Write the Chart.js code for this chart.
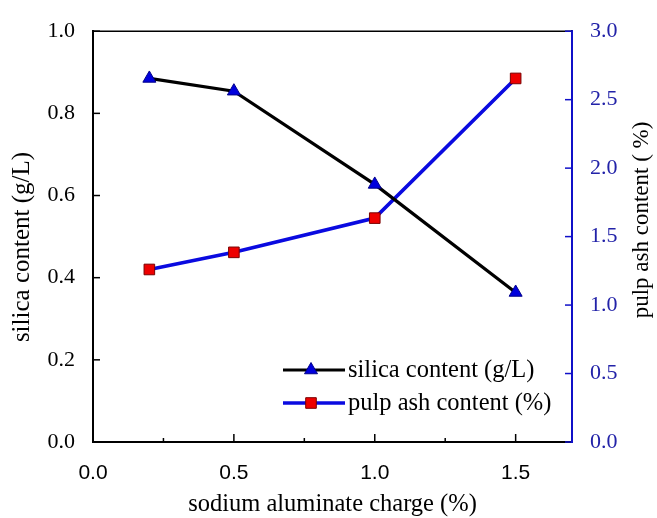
<!DOCTYPE html>
<html><head><meta charset="utf-8">
<script src="https://cdn.jsdelivr.net/npm/chart.js@4.4.1/dist/chart.umd.min.js"></script>
<style>html,body{margin:0;padding:0;background:#fff;} #wrap{width:657px;height:518px;}</style>
</head><body><div id="wrap"><canvas id="c" width="657" height="518"></canvas></div>
<script>
const charge = [0.2, 0.5, 1.0, 1.5];
const silica = [0.885, 0.854, 0.627, 0.364];
const ash = [1.26, 1.385, 1.635, 2.655];
const xTicks = [0, 0.5, 1.0, 1.5];
const xMinorTicks = [0.25, 0.75, 1.25];
const yTicks = [0, 0.2, 0.4, 0.6, 0.8, 1.0];
const y2Ticks = [0, 0.5, 1.0, 1.5, 2.0, 2.5, 3.0];
const seriesLabels = ['silica content (g/L)', 'pulp ash content (%)'];
const xTitle = 'sodium aluminate charge (%)';
const yTitle = 'silica content (g/L)';
const y2Title = 'pulp ash content ( %)';

const SERIF = '"Liberation Serif", "Times New Roman", serif';
const SANS = '"Liberation Sans", Arial, sans-serif';
const BLUE_TEXT = '#2222a8';
const BLUE_AXIS = '#1010c8';

function seg(ctx, x1, y1, x2, y2) { ctx.beginPath(); ctx.moveTo(x1, y1); ctx.lineTo(x2, y2); ctx.stroke(); }

const decor = {
  id: 'decor',
  beforeDatasetsDraw(chart) {
    const {ctx, chartArea: a, scales} = chart;
    ctx.save();
    ctx.strokeStyle = '#000';
    ctx.lineWidth = 1.5;
    seg(ctx, a.left, a.top, a.right, a.top);
    yTicks.forEach(v => { const p = scales.y.getPixelForValue(v); seg(ctx, a.left, p, a.left + 7, p); });
    xTicks.forEach(v => { const p = scales.x.getPixelForValue(v); seg(ctx, p, a.bottom, p, a.bottom - 8); });
    xMinorTicks.forEach(v => { const p = scales.x.getPixelForValue(v); seg(ctx, p, a.bottom, p, a.bottom - 4); });
    ctx.strokeStyle = BLUE_AXIS;
    y2Ticks.forEach(v => { const p = scales.y1.getPixelForValue(v); seg(ctx, a.right, p, a.right - 7, p); });
    ctx.restore();
  },
  afterDraw(chart) {
    const {ctx, chartArea: a} = chart;
    ctx.save();
    ctx.fillStyle = '#000';
    ctx.textAlign = 'center';
    ctx.textBaseline = 'middle';
    ctx.save();
    ctx.translate(22, 247);
    ctx.rotate(-Math.PI / 2);
    ctx.font = '25px ' + SERIF;
    ctx.fillText(yTitle, 0, 0);
    ctx.restore();
    ctx.save();
    ctx.translate(642, 220);
    ctx.rotate(-Math.PI / 2);
    ctx.font = '23px ' + SERIF;
    ctx.fillText(y2Title, 0, 0);
    ctx.restore();
    const rows = [a.bottom - 72, a.bottom - 39];
    const x0 = a.left + 190, x1 = a.left + 252, xm = a.left + 218;
    chart.data.datasets.forEach((ds, i) => {
      const y = rows[i];
      ctx.strokeStyle = ds.borderColor;
      ctx.lineWidth = ds.borderWidth;
      seg(ctx, x0, y, x1, y);
      if (Chart.helpers && Chart.helpers.drawPoint) {
        ctx.fillStyle = ds.pointBackgroundColor;
        ctx.strokeStyle = ds.pointBorderColor;
        ctx.lineWidth = ds.pointBorderWidth;
        Chart.helpers.drawPoint(ctx, {pointStyle: ds.pointStyle, radius: ds.pointRadius, rotation: 0, borderWidth: ds.pointBorderWidth}, xm, y);
      }
      ctx.fillStyle = '#000';
      ctx.textAlign = 'left';
      ctx.textBaseline = 'middle';
      ctx.font = '24.5px ' + SERIF;
      ctx.fillText(ds.label, x1 + 3, y + 1);
    });
    ctx.restore();
  }
};

new Chart(document.getElementById('c'), {
  type: 'line',
  data: {
    datasets: [
      {
        label: seriesLabels[0],
        data: charge.map((x, i) => ({x, y: silica[i]})),
        yAxisID: 'y',
        borderColor: '#000',
        borderWidth: 3.2,
        pointStyle: 'triangle',
        pointRadius: 7.5,
        pointBackgroundColor: '#0000dd',
        pointBorderColor: '#00008a',
        pointBorderWidth: 1,
        tension: 0,
        clip: false
      },
      {
        label: seriesLabels[1],
        data: charge.map((x, i) => ({x, y: ash[i]})),
        yAxisID: 'y1',
        borderColor: '#0a0ae0',
        borderWidth: 3.6,
        pointStyle: 'rect',
        pointRadius: 7.5,
        pointBackgroundColor: '#ee0000',
        pointBorderColor: '#7a0000',
        pointBorderWidth: 1,
        tension: 0,
        clip: false
      }
    ]
  },
  options: {
    responsive: false,
    animation: false,
    devicePixelRatio: 1,
    layout: {padding: {top: 23, left: 0, right: 0, bottom: 0}},
    plugins: {legend: {display: false}, tooltip: {enabled: false}},
    scales: {
      x: {
        type: 'linear',
        min: 0, max: 1.7,
        afterBuildTicks: s => { s.ticks = xTicks.map(v => ({value: v})); },
        afterFit: s => { s.height = 76; },
        grid: {drawOnChartArea: false, drawTicks: false},
        border: {color: '#000', width: 2},
        ticks: {padding: 19, color: '#000', font: {family: SANS, size: 21}, callback: v => Number(v).toFixed(1)},
        title: {display: true, text: xTitle, color: '#000', font: {family: SERIF, size: 24.5, lineHeight: 1.1}, padding: {top: 0, bottom: 0}}
      },
      y: {
        type: 'linear', position: 'left',
        min: 0, max: 1.0,
        afterBuildTicks: s => { s.ticks = yTicks.map(v => ({value: v})); },
        afterFit: s => { s.width = 93; },
        grid: {drawOnChartArea: false, drawTicks: false},
        border: {color: '#000', width: 2},
        ticks: {padding: 18, color: '#000', font: {family: SERIF, size: 22}, callback: v => Number(v).toFixed(1)}
      },
      y1: {
        type: 'linear', position: 'right',
        min: 0, max: 3.0,
        afterBuildTicks: s => { s.ticks = y2Ticks.map(v => ({value: v})); },
        afterFit: s => { s.width = 85; },
        grid: {drawOnChartArea: false, drawTicks: false},
        border: {color: BLUE_AXIS, width: 2},
        ticks: {padding: 18, color: BLUE_TEXT, font: {family: SERIF, size: 22}, callback: v => Number(v).toFixed(1)}
      }
    }
  },
  plugins: [decor]
});
</script>
</body></html>
